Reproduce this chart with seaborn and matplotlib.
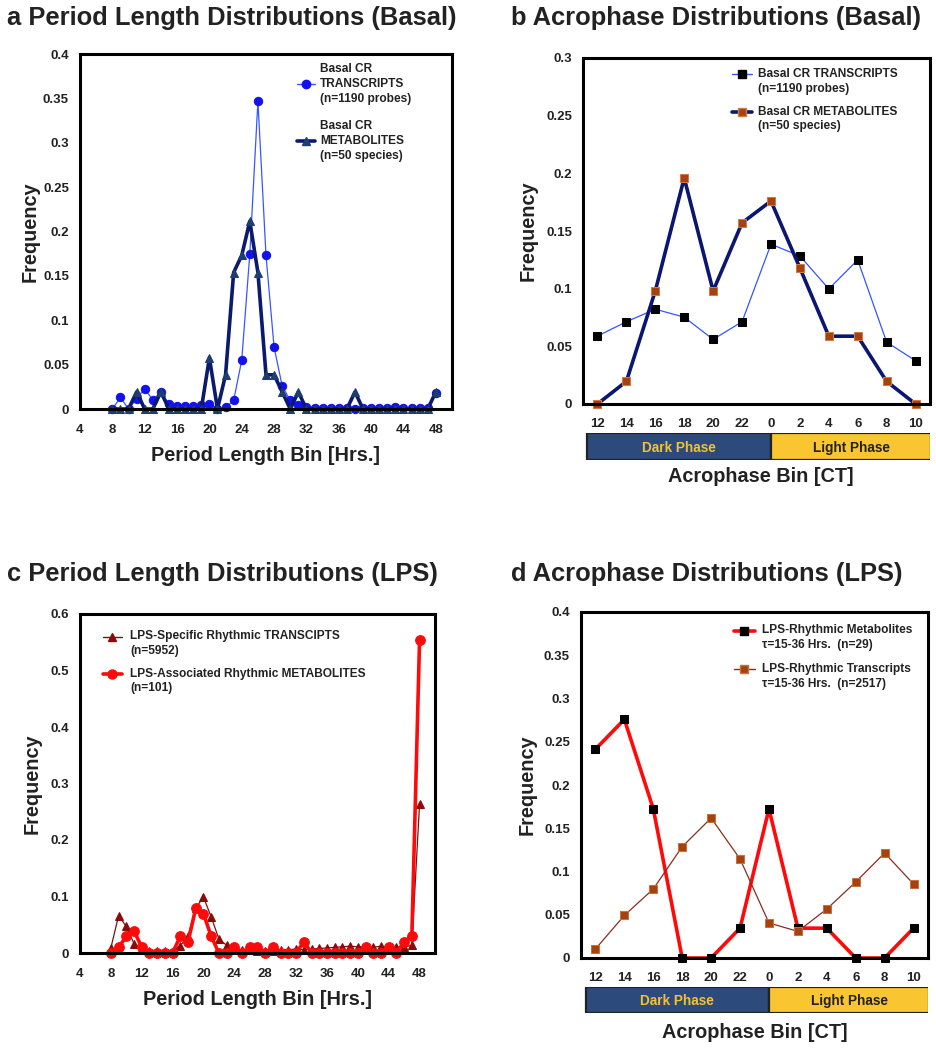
import numpy as np
import matplotlib
matplotlib.use("Agg")
import matplotlib.pyplot as plt
import matplotlib.transforms as mtrans
from matplotlib.ticker import FuncFormatter, MultipleLocator, FixedLocator
import seaborn as sns

# ---- data ----
period_bins = list(range(8, 49))

basal_period_transcripts = [0, 0.013, 0, 0.0115, 0.023, 0.010, 0.0196, 0.0055, 0.003, 0.0035,
                            0.0035, 0.0045, 0.0055, 0, 0.002, 0.0096, 0.055, 0.175, 0.347, 0.173,
                            0.0696, 0.026, 0.0096, 0.0045, 0.002, 0.0015, 0.0015, 0.0015, 0.001, 0.001,
                            0, 0.001, 0.001, 0.0015, 0.001, 0.002, 0.001, 0.001, 0.001, 0.001, 0.0185]
basal_period_metabolites = [0, 0, 0, 0.0192, 0, 0, 0.0192, 0, 0, 0,
                            0, 0, 0.0577, 0, 0.0385, 0.1538, 0.1731, 0.2115, 0.1538, 0.0385,
                            0.0385, 0.0192, 0, 0.0192, 0, 0, 0, 0, 0, 0,
                            0.0192, 0, 0, 0, 0, 0, 0, 0, 0, 0, 0.0192]

lps_period_transcripts = [0.009, 0.066, 0.047, 0.0165, 0.009, 0.004, 0.004, 0.004, 0.004, 0.013,
                          0.03, 0.08, 0.099, 0.0637, 0.0248, 0.0136, 0.008, 0.005, 0.006, 0.004,
                          0.003, 0.004, 0.005, 0.006, 0.007, 0.006, 0.007, 0.008, 0.009, 0.01,
                          0.011, 0.012, 0.011, 0.011, 0.01, 0.012, 0.01, 0.01, 0.011, 0.0135, 0.264]
lps_period_metabolites = [0, 0.0099, 0.0297, 0.0396, 0.0099, 0, 0, 0, 0, 0.0297,
                          0.0198, 0.0792, 0.0693, 0.0297, 0, 0, 0.0099, 0, 0.0099, 0.0099,
                          0, 0.0099, 0, 0, 0, 0.0198, 0, 0, 0, 0,
                          0, 0, 0, 0.0099, 0, 0, 0.0099, 0, 0.0198, 0.0297, 0.5545]

acro_bins = ["12", "14", "16", "18", "20", "22", "0", "2", "4", "6", "8", "10"]
basal_acro_transcripts = [0.0589, 0.0713, 0.0822, 0.0753, 0.056, 0.0713,
                          0.1385, 0.1284, 0.0998, 0.1249, 0.0537, 0.0375]
basal_acro_metabolites = [0, 0.0196, 0.098, 0.196, 0.098, 0.157,
                          0.176, 0.118, 0.0588, 0.0588, 0.0196, 0]
lps_acro_metabolites = [0.2414, 0.2759, 0.1724, 0, 0, 0.0345,
                        0.1724, 0.0345, 0.0345, 0, 0, 0.0345]
lps_acro_transcripts = [0.0104, 0.0493, 0.0798, 0.1287, 0.1618, 0.1145,
                        0.0405, 0.0308, 0.0566, 0.0879, 0.1214, 0.0855]

# ---- style ----
sns.set_style("white")
plt.rcParams["font.family"] = ["Liberation Sans", "DejaVu Sans"]
plt.rcParams["font.weight"] = "bold"
plt.rcParams["axes.labelweight"] = "bold"

TXT = "#222222"
W, H = 937, 1050
fig = plt.figure(figsize=(W / 100, H / 100), dpi=100)


def px_axes(left, top, right, bottom):
    return fig.add_axes([left / W, 1 - bottom / H, (right - left) / W, (bottom - top) / H])


def style_axes(ax, ymax, ystep):
    for s in ax.spines.values():
        s.set_visible(True)
        s.set_color("black")
        s.set_linewidth(2.2)
    ax.set_ylim(0, ymax)
    ax.yaxis.set_major_locator(MultipleLocator(ystep))
    ax.yaxis.set_major_formatter(FuncFormatter(lambda v, _: f"{v:g}"))
    ax.tick_params(axis="both", which="both", length=4, width=1, color="#9a9a9a",
                   labelsize=9.5, labelcolor=TXT, direction="out")
    ax.tick_params(axis="y", pad=4)
    ax.tick_params(axis="x", pad=7)
    ax.set_ylabel("Frequency", fontsize=14.3, color=TXT)


def legend_entry(ax, x0, x1, xt, y, text, line_kw, marker_kw, first_line=True):
    ax.plot([x0, x1], [y, y], transform=ax.transAxes, clip_on=False, **line_kw)
    ax.plot([(x0 + x1) / 2], [y], transform=ax.transAxes, clip_on=False, linestyle="none", **marker_kw)
    tr = ax.transAxes
    if first_line:
        tr = mtrans.offset_copy(ax.transAxes, fig=fig, y=-7, units="dots")
    ax.text(xt, y, text, transform=tr, va="center", ha="left", fontsize=8.6,
            color=TXT, linespacing=1.3)


ax_ref_left = {"b": 583, "d": 581}
ax_ref_right = {"b": 930, "d": 928}


def phase_bar(left, top, right, bottom, key):
    bx = px_axes(ax_ref_left[key], top, ax_ref_right[key], bottom)
    bx.set_xlim(-0.5, 11.5)
    bx.set_ylim(0, 1)
    bx.barh(0.5, 6 - left, left=left, height=1, color="#2c4a7c", edgecolor="#222222", linewidth=1.6)
    bx.barh(0.5, right - 6, left=6, height=1, color="#f9c631", edgecolor="#222222", linewidth=1.6)
    bx.text((left + 6) / 2, 0.45, "Dark Phase", ha="center", va="center", fontsize=9.8, color="#f5c133")
    bx.text((6 + right) / 2, 0.45, "Light Phase", ha="center", va="center", fontsize=9.8, color=TXT)
    bx.axis("off")


# ---- panel a ----
ax_a = px_axes(80, 54, 452, 409)
sns.lineplot(x=period_bins, y=basal_period_transcripts, ax=ax_a, color="#3a55ff", linewidth=0.9,
             marker="o", markersize=6, markerfacecolor="#1212f0", markeredgecolor="#1212f0",
             clip_on=False, legend=False)
sns.lineplot(x=period_bins, y=basal_period_metabolites, ax=ax_a, color="#0b1a6e", linewidth=2.6,
             marker="^", markersize=6, markerfacecolor="#1d3e6e", markeredgecolor="#1d3e6e",
             clip_on=False, legend=False)
ax_a.set_xlim(4, 50)
ax_a.set_xticks(range(4, 49, 4))
style_axes(ax_a, 0.4, 0.05)
ax_a.yaxis.set_label_coords(-0.108, 0.5)
ax_a.set_xlabel("Period Length Bin [Hrs.]", fontsize=14.3, color=TXT)
ax_a.xaxis.set_label_coords(0.5, -0.105)
legend_entry(ax_a, 0.583, 0.632, 0.645, 0.915, "Basal CR\nTRANSCRIPTS\n(n=1190 probes)",
             dict(color="#3a55ff", linewidth=1.0),
             dict(marker="o", markersize=6, color="#1212f0"), first_line=False)
legend_entry(ax_a, 0.583, 0.632, 0.645, 0.755, "Basal CR\nMETABOLITES\n(n=50 species)",
             dict(color="#0b1a6e", linewidth=2.6),
             dict(marker="^", markersize=6, color="#1d3e6e"), first_line=False)

# ---- panel b ----
ax_b = px_axes(583, 58, 930, 404)
xpos = np.arange(len(acro_bins))
sns.lineplot(x=xpos, y=basal_acro_transcripts, ax=ax_b, color="#3355ff", linewidth=0.9,
             marker="s", markersize=5.5, markerfacecolor="black", markeredgecolor="black",
             clip_on=False, legend=False)
sns.lineplot(x=xpos, y=basal_acro_metabolites, ax=ax_b, color="#0a1670", linewidth=2.6,
             marker="s", markersize=6, markerfacecolor="#a5420f", markeredgecolor="#d07a45",
             clip_on=False, legend=False)
ax_b.set_xlim(-0.5, 11.5)
style_axes(ax_b, 0.3, 0.05)
ax_b.set_xticks(xpos, acro_bins)
ax_b.xaxis.set_minor_locator(FixedLocator(np.arange(-0.5, 12, 1)))
ax_b.tick_params(axis="x", which="major", length=0, pad=10)
ax_b.yaxis.set_label_coords(-0.132, 0.5)
legend_entry(ax_b, 0.429, 0.487, 0.504, 0.953, "Basal CR TRANSCRIPTS\n(n=1190 probes)",
             dict(color="#3355ff", linewidth=1.0),
             dict(marker="s", markersize=5.5, color="black"))
legend_entry(ax_b, 0.429, 0.487, 0.504, 0.844, "Basal CR METABOLITES\n(n=50 species)",
             dict(color="#0a1670", linewidth=2.6),
             dict(marker="s", markersize=6, markerfacecolor="#a5420f", markeredgecolor="#d07a45"))

# ---- panel c ----
ax_c = px_axes(80, 614, 435, 953)
sns.lineplot(x=period_bins, y=lps_period_transcripts, ax=ax_c, color="#7a1010", linewidth=0.9,
             marker="^", markersize=6, markerfacecolor="#8b0a0a", markeredgecolor="#8b0a0a",
             clip_on=False, legend=False)
sns.lineplot(x=period_bins, y=lps_period_metabolites, ax=ax_c, color="#ff0a0a", linewidth=2.6,
             marker="o", markersize=7, markerfacecolor="#ff0a0a", markeredgecolor="#ff0a0a",
             clip_on=False, legend=False)
ax_c.set_xlim(4, 50)
ax_c.set_xticks(range(4, 49, 4))
style_axes(ax_c, 0.6, 0.1)
ax_c.yaxis.set_label_coords(-0.107, 0.5)
ax_c.set_xlabel("Period Length Bin [Hrs.]", fontsize=14.3, color=TXT)
ax_c.xaxis.set_label_coords(0.5, -0.108)
legend_entry(ax_c, 0.065, 0.118, 0.141, 0.933, "LPS-Specific Rhythmic TRANSCIPTS\n(n=5952)",
             dict(color="#7a1010", linewidth=1.0),
             dict(marker="^", markersize=6, color="#8b0a0a"))
legend_entry(ax_c, 0.065, 0.118, 0.141, 0.823, "LPS-Associated Rhythmic METABOLITES\n(n=101)",
             dict(color="#ff0a0a", linewidth=2.6),
             dict(marker="o", markersize=6.5, color="#ff0a0a"))

# ---- panel d ----
ax_d = px_axes(581, 612, 928, 958)
sns.lineplot(x=xpos, y=lps_acro_metabolites, ax=ax_d, color="#ff0a0a", linewidth=2.6,
             marker="s", markersize=6, markerfacecolor="black", markeredgecolor="black",
             clip_on=False, legend=False)
sns.lineplot(x=xpos, y=lps_acro_transcripts, ax=ax_d, color="#8b2d1e", linewidth=0.9,
             marker="s", markersize=5.5, markerfacecolor="#a5420f", markeredgecolor="#c8703e",
             clip_on=False, legend=False)
ax_d.set_xlim(-0.5, 11.5)
style_axes(ax_d, 0.4, 0.05)
ax_d.set_xticks(xpos, acro_bins)
ax_d.xaxis.set_minor_locator(FixedLocator(np.arange(-0.5, 12, 1)))
ax_d.tick_params(axis="x", which="major", length=0, pad=10)
ax_d.yaxis.set_label_coords(-0.127, 0.5)
legend_entry(ax_d, 0.441, 0.501, 0.522, 0.946, "LPS-Rhythmic Metabolites\nτ=15-36 Hrs.  (n=29)",
             dict(color="#ff0a0a", linewidth=2.6),
             dict(marker="s", markersize=6, color="black"))
legend_entry(ax_d, 0.441, 0.501, 0.522, 0.834, "LPS-Rhythmic Transcripts\nτ=15-36 Hrs.  (n=2517)",
             dict(color="#8b2d1e", linewidth=1.0),
             dict(marker="s", markersize=5.5, markerfacecolor="#a5420f", markeredgecolor="#c8703e"))

# phase bars under b and d
phase_bar(-0.36, 433, 11.55, 460, "b")
phase_bar(-0.34, 987, 11.55, 1013, "d")
fig.text(761 / W, 1 - 477 / H, "Acrophase Bin [CT]", ha="center", va="center", fontsize=14.3, color=TXT)
fig.text(755 / W, 1 - 1032 / H, "Acrophase Bin [CT]", ha="center", va="center", fontsize=14.3, color=TXT)

# panel titles
fig.text(7 / W, 1 - 25 / H, "a Period Length Distributions (Basal)", ha="left", va="baseline",
         fontsize=18.4, color=TXT)
fig.text(511 / W, 1 - 25 / H, "b Acrophase Distributions (Basal)", ha="left", va="baseline",
         fontsize=18.4, color=TXT)
fig.text(7 / W, 1 - 581 / H, "c Period Length Distributions (LPS)", ha="left", va="baseline",
         fontsize=18.4, color=TXT)
fig.text(511 / W, 1 - 581 / H, "d Acrophase Distributions (LPS)", ha="left", va="baseline",
         fontsize=18.4, color=TXT)

fig.savefig("out.png", dpi=100, facecolor="white")
